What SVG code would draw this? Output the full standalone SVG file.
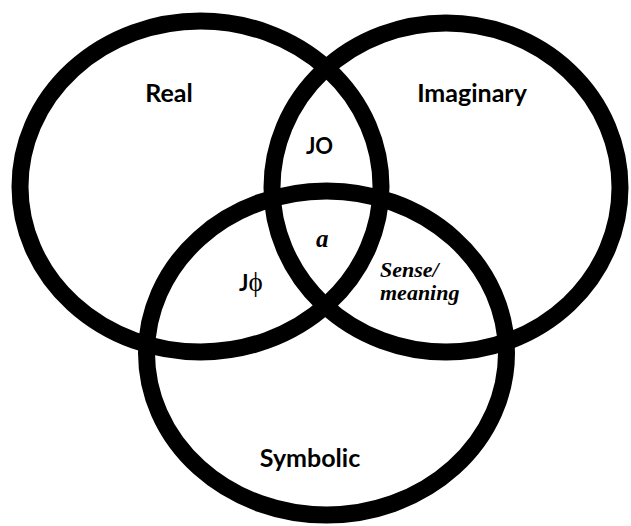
<svg xmlns="http://www.w3.org/2000/svg" width="631" height="526" viewBox="0 0 631 526">
<style>
.ring{fill:none;stroke:#000;stroke-width:17}
.lbl{font-family:Lato,"Open Sans","Liberation Sans",sans-serif;font-weight:bold;fill:#000;text-anchor:middle}
.ser{font-family:"Liberation Serif","DejaVu Serif",serif;font-weight:bold;font-style:italic;fill:#000}
</style>
<rect width="631" height="526" fill="#fff"/>
<g id="real"><ellipse class="ring" cx="200.5" cy="186.5" rx="180.5" ry="165.5"/><text class="lbl" x="169" y="102" font-size="25">Real</text></g>
<g id="imaginary"><ellipse class="ring" cx="446" cy="187.5" rx="174" ry="164.5"/><text class="lbl" x="472" y="102" font-size="25">Imaginary</text></g>
<g id="symbolic"><ellipse class="ring" cx="326.5" cy="353" rx="180" ry="162"/><text class="lbl" x="310" y="467" font-size="25">Symbolic</text></g>
<g id="jo"><text class="lbl" x="319.5" y="154" font-size="22">JO</text></g>
<g id="a"><text class="ser" x="316" y="247" font-size="25">a</text></g>
<g id="jphi"><text x="239" y="291" font-size="22"><tspan font-family="Lato,'Liberation Sans',sans-serif" font-weight="bold">J</tspan><tspan font-family="'Liberation Serif','DejaVu Serif',serif" font-size="27">ϕ</tspan></text></g>
<g id="sense"><text class="ser" font-size="22"><tspan x="380" y="277">Sense/</tspan><tspan x="380" y="300">meaning</tspan></text></g>
<g id="connectors"/>
</svg>
